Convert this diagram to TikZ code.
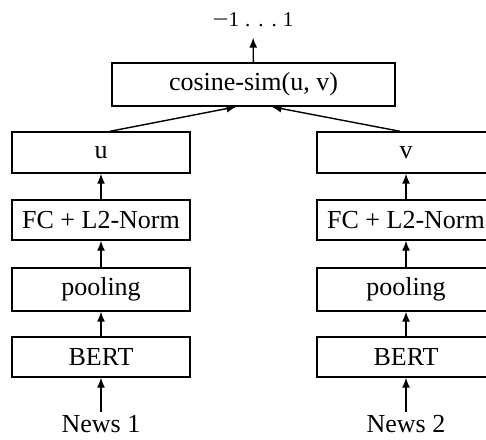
\documentclass[tikz,border=0pt]{standalone}
\usepackage{fontspec}
\setmainfont{Liberation Serif}
\usetikzlibrary{arrows.meta}

\begin{document}
\begin{tikzpicture}[x=1pt,y=-1pt,
    box/.style={draw, line width=1.4pt, minimum width=178pt, minimum height=41pt,
        inner sep=0pt, font=\fontsize{26}{31}\selectfont},
    flow/.style={-{Latex[length=10pt,width=8pt]}, line width=1.4pt}]
    \useasboundingbox (0,0) rectangle (486,439);

    % Similarity on top
    \node[inner sep=11pt, font=\fontsize{21}{25}\selectfont] (range) at (253,19.4)
        {\scalebox{1.35}[1]{−}1\hspace{6pt}.\hspace{8pt}.\hspace{8pt}.\hspace{6pt}1};
    \node[box, minimum width=283pt, minimum height=43pt] (cossim) at (253.5,84.5) {cosine-sim(u, v)};

    % Left branch
    \node[box] (u) at (101,152.5) {u};
    \node[box, minimum height=40pt] (fcL) at (101,220) {FC + L2-Norm};
    \node[box, minimum height=43pt] (poolL) at (101,289.5) {pooling};
    \node[box, minimum height=40pt] (bertL) at (101,357) {BERT};
    \node[font=\fontsize{26}{31}\selectfont] (newsL) at (101,424) {News 1};

    % Right branch
    \node[box] (v) at (406,152.5) {v};
    \node[box, minimum height=40pt] (fcR) at (406,220) {FC + L2-Norm};
    \node[box, minimum height=43pt] (poolR) at (406,289.5) {pooling};
    \node[box, minimum height=40pt] (bertR) at (406,357) {BERT};
    \node[font=\fontsize{26}{31}\selectfont] (newsR) at (406,424) {News 2};

    % Arrows
    \draw[flow] (newsL) -- (bertL);
    \draw[flow] (bertL) -- (poolL);
    \draw[flow] (poolL) -- (fcL);
    \draw[flow] (fcL) -- (u);
    \draw[flow] (newsR) -- (bertR);
    \draw[flow] (bertR) -- (poolR);
    \draw[flow] (poolR) -- (fcR);
    \draw[flow] (fcR) -- (v);
    \draw[flow] ([xshift=9pt]u.north) -- ([xshift=-17pt]cossim.south);
    \draw[flow] ([xshift=-6pt]v.north) -- ([xshift=18pt]cossim.south);
    \draw[flow] (cossim) -- (range);
\end{tikzpicture}
\end{document}
